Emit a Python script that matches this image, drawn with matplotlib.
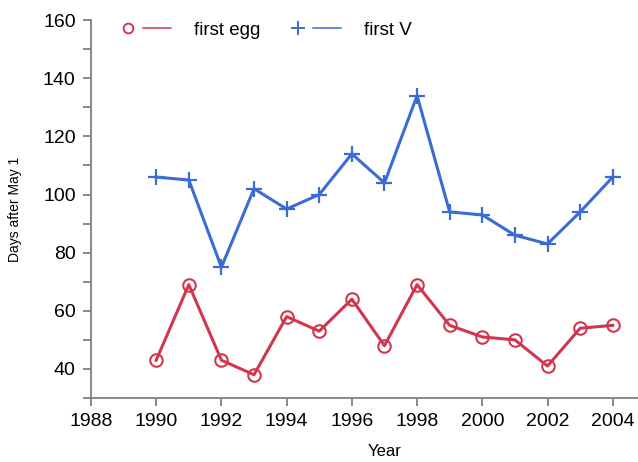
import matplotlib
matplotlib.use("Agg")
from matplotlib import pyplot as plt
from matplotlib.lines import Line2D
from matplotlib.legend_handler import HandlerTuple
from matplotlib.ticker import MultipleLocator

plt.rcParams['font.family'] = ['Liberation Sans', 'DejaVu Sans']

# du lieu doc tu hinh
years = [1990, 1991, 1992, 1993, 1994, 1995, 1996, 1997, 1998, 1999, 2000, 2001, 2002, 2003, 2004]
first_egg = [43, 69, 43, 38, 58, 53, 64, 48, 69, 55, 51, 50, 41, 54, 55]
first_v = [106, 105, 75, 102, 95, 100, 114, 104, 134, 94, 93, 86, 83, 94, 106]
x_ticks = [1988, 1990, 1992, 1994, 1996, 1998, 2000, 2002, 2004]
y_ticks = [40, 60, 80, 100, 120, 140, 160]

red = '#d0374f'
blue = '#3b6cd6'
grey = '#7f7f7f'

fig = plt.figure(figsize=(6.38, 4.62), dpi=100)
ax = fig.add_axes([0.1426, 0.1385, 0.92, 0.818])

ax.plot(years, first_egg, color=red, lw=2.2, marker='o', ms=9,
        mfc='none', mec=red, mew=1.5)
ax.plot(years, first_v, color=blue, lw=2.2, marker='+', ms=11.5,
        mec=blue, mew=1.6)

ax.set_xlim(1988, 2006)
ax.set_ylim(30, 160)
ax.set_xticks(x_ticks)
ax.set_yticks(y_ticks)
ax.yaxis.set_minor_locator(MultipleLocator(10))

for side in ['top', 'right']:
    ax.spines[side].set_visible(False)
for side in ['left', 'bottom']:
    ax.spines[side].set_color(grey)
    ax.spines[side].set_linewidth(1.3)
ax.tick_params(which='both', direction='out', color=grey, width=1.3)
ax.tick_params(which='major', length=6, labelsize=14, pad=5)
ax.tick_params(which='minor', length=6)

ax.set_xlabel('Year', fontsize=12, labelpad=10)
ax.yaxis.set_label_coords(-0.118, 0.615)
ax.set_ylabel('Days after May 1', fontsize=10)

# chu thich: ky hieu roi moi den doan thang
egg_m = Line2D([], [], ls='none', marker='o', ms=7, mfc='none', mec=red, mew=1.4)
egg_l = Line2D([], [], color=red, lw=1.1)
v_m = Line2D([], [], ls='none', marker='+', ms=9.5, mec=blue, mew=1.4)
v_l = Line2D([], [], color=blue, lw=1.1)
ax.legend([(egg_m, egg_l), (v_m, v_l)], ['first egg', 'first V'],
          handler_map={tuple: HandlerTuple(ndivide=2, pad=0.05)},
          loc='upper left', bbox_to_anchor=(0.01, 1.04), ncol=2,
          frameon=False, fontsize=13.5, handlelength=3.04,
          handletextpad=1.23, columnspacing=1.28)

fig.savefig('out.png', dpi=100)
